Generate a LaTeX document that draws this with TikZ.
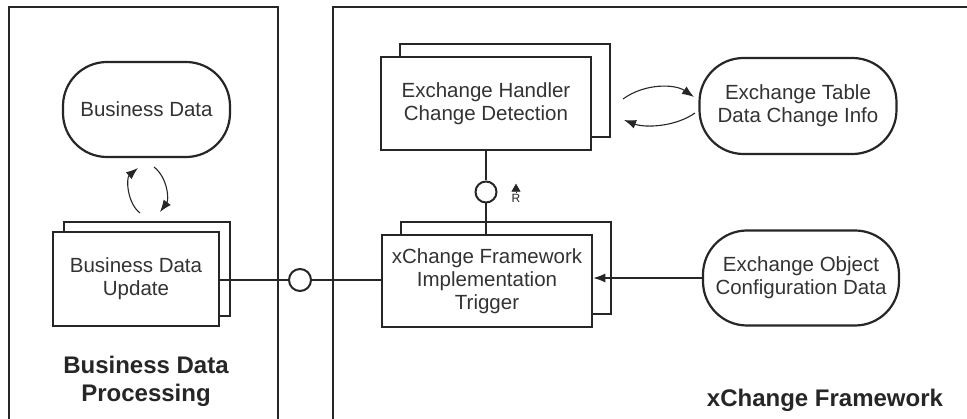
\documentclass[tikz,border=0pt]{standalone}
\usepackage{fontspec}
\setmainfont{Liberation Sans}
\usetikzlibrary{arrows.meta}

\begin{document}
\begin{tikzpicture}[x=1pt,y=-1pt,
    frame/.style={draw=black!85, line width=2.3pt},
    procbox/.style={draw=black!85, fill=white, line width=2.7pt, align=center,
      text=black!80, font=\fontsize{20.5}{23}\selectfont},
    datastore/.style={draw=black!85, fill=white, rounded corners=44pt, line width=2.2pt,
      align=center, text=black!80, font=\fontsize{20.5}{23}\selectfont},
    port/.style={circle, draw=black!85, fill=white, line width=2pt,
      minimum size=22pt, inner sep=0pt},
    conn/.style={line width=1.4pt, black!85},
    flow/.style={line width=1.1pt, black!85, -{Latex[length=12pt,width=9pt]}},
    title/.style={font=\bfseries\fontsize{24}{28}\selectfont, align=center, text=black!85}]

        % Page size
        \useasboundingbox (0,0) rectangle (967,419);
        \clip (0,0) rectangle (967,419);

        % Frames
        \draw[frame] (9,7) rectangle (278,440);
        \draw[frame] (333,7) rectangle (980,440);

        % Business side
        \node[datastore, minimum width=167pt, minimum height=95pt] (bdata) at (146.5,109.5) {Business Data};
        \node[procbox, minimum width=166pt, minimum height=94pt] (bdupdback) at (147,269) {};
        \node[procbox, minimum width=166pt, minimum height=94pt] (bdupd) at (136,279) {Business Data\\Update};

        % xChange side
        \node[procbox, minimum width=210pt, minimum height=93pt] (handlerback) at (505,90.5) {};
        \node[procbox, minimum width=210pt, minimum height=93pt] (handler) at (486,103.5) {Exchange Handler\\Change Detection};
        \node[procbox, minimum width=210pt, minimum height=92pt] (xcfback) at (506,268) {};
        \node[procbox, minimum width=210pt, minimum height=92pt] (xcf) at (487,281) {xChange Framework\\Implementation\\Trigger};
        \node[datastore, minimum width=197pt, minimum height=96pt] (extable) at (798,106) {Exchange Table\\Data Change Info};
        \node[datastore, minimum width=196pt, minimum height=95pt] (exobject) at (801,278) {Exchange Object\\Configuration Data};

        % Interfaces
        \node[port] (lport) at (300,280) {};
        \node[port, minimum size=21pt] (tport) at (486,192) {};
        \node[font=\fontsize{12}{14}\selectfont, text=black!85, inner sep=1pt] (rlbl) at (516,198) {R};
        \draw[-{Triangle[length=8pt,width=9pt]}, black!85, line width=0.6pt] (rlbl.north) -- ++(0,-9);

        % Connectors
        \draw[conn] (bdupd.east |- lport) -- (lport.west);
        \draw[conn] (lport.east) -- (lport -| xcf.west);
        \draw[conn] (handler.south) -- (tport.north);
        \draw[conn] (tport.south) -- (tport |- xcf.north);
        \draw[flow] (exobject.west) -- (exobject.west -| xcf.east);

        % Read / write cycles
        \coordinate (bdin1) at (140,213);
        \coordinate (bdin2) at (138,168);
        \coordinate (bdout1) at (154,167);
        \coordinate (bdout2) at (160,212);
        \draw[flow] (bdin1) .. controls (127,203) and (126,178) .. (bdin2);
        \draw[flow] (bdout1) .. controls (168,178) and (169,200) .. (bdout2);

        \coordinate (exout1) at (623,99);
        \coordinate (exout2) at (694,97);
        \coordinate (exin1) at (695,113);
        \coordinate (exin2) at (624,120);
        \draw[flow] (exout1) .. controls (645,83) and (675,84) .. (exout2);
        \draw[flow] (exin1) .. controls (675,127) and (645,128) .. (exin2);

        % Frame titles
        \node[title] (bdptitle) at (146,381) {Business Data\\Processing};
        \node[title] (xcftitle) at (825,400) {xChange Framework};

\end{tikzpicture}
\end{document}
